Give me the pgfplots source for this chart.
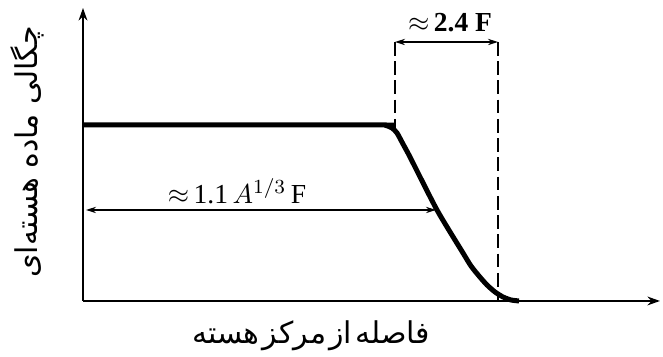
\documentclass[border=0pt]{standalone}
\usepackage{pgfplots}
\pgfplotsset{compat=1.18}
\usepackage{fontspec}
\setmainfont{Liberation Serif}
\newfontfamily\arabicfont[Script=Arabic]{DejaVu Sans}
\TeXXeTstate=1
\usetikzlibrary{arrows.meta}
\begin{document}
\begin{tikzpicture}
\begin{axis}[
  scale only axis, width=230.8pt, height=117.2pt,
  xmin=0, xmax=577, ymin=0, ymax=293,
  axis lines=left,
  axis line style={line width=0.9pt, -{Stealth[length=5pt,width=3.5pt]}},
  xtick=\empty, ytick=\empty,
  clip=false,
]
\addplot[line width=2pt, smooth, tension=0.4] coordinates {
 (0,176) (295,176) (303,175.5) (309,173) (314,168) (320,157) (327,144)
 (354,91) (380,48) (388,35) (396,25) (404,16) (412,9) (420,4) (428,1) (436,0)
};
% dashed guides
\draw[line width=0.8pt, dash pattern=on 5.5pt off 2.2pt] (axis cs:312,259) -- (axis cs:312,173);
\draw[line width=0.8pt, dash pattern=on 5.5pt off 2.2pt] (axis cs:415,259) -- (axis cs:415,0);
\draw[line width=0.7pt, {Stealth[length=4pt,width=2.5pt]}-{Stealth[length=4pt,width=2.5pt]}] (axis cs:312,259) -- (axis cs:415,259);
\node[font=\fontsize{11}{13}\selectfont\bfseries] at (axis cs:367,278) {$\approx$\,2.4 F};
% radius arrow
\draw[line width=0.7pt, {Stealth[length=4pt,width=2.5pt]}-{Stealth[length=4pt,width=2.5pt]}] (axis cs:3,91) -- (axis cs:353,91);
\node[font=\fontsize{11}{13}\selectfont] at (axis cs:154,110) {$\approx$\,1.1\,$A^{1/3}$\,F};
% labels
\node[rotate=90, font=\fontsize{12}{14}\selectfont] at (axis cs:-56,149) {\arabicfont\beginR چگالی ماده هسته‌ای\endR};
\node[font=\fontsize{12}{14}\selectfont] at (axis cs:228,-35) {\arabicfont\spaceskip=1.2pt\beginR فاصله از مرکز هسته\endR};
\coordinate (bl) at (axis cs:-83,-56);
\coordinate (tr) at (axis cs:580,301);
\end{axis}
\pgfresetboundingbox
\path[use as bounding box] (bl) rectangle (tr);
\end{tikzpicture}
\end{document}
